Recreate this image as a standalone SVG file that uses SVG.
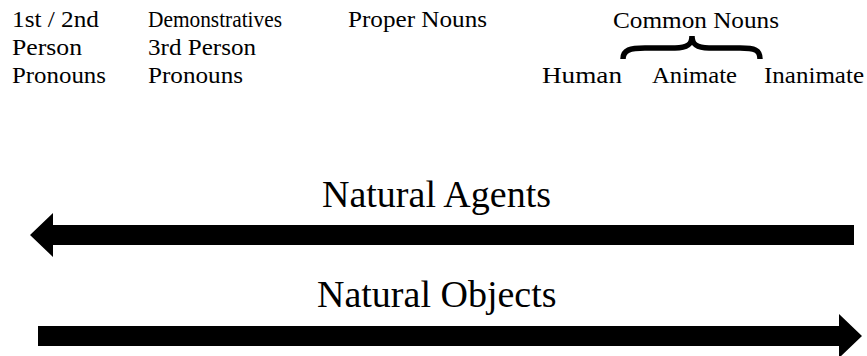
<svg xmlns="http://www.w3.org/2000/svg" width="867" height="356" viewBox="0 0 867 356">
<style>
.lbl{font-size:24px;fill:#000}
.ttl{font-size:38px;fill:#000}
.brace{fill:none;stroke:#000;stroke-width:5.5}
</style>
<rect width="867" height="356" fill="#fff"/>
<g font-family="Liberation Serif">
<g id="pron12"><text class="lbl" x="12" y="27" textLength="87" lengthAdjust="spacingAndGlyphs">1st / 2nd</text><text class="lbl" x="12" y="55" textLength="70" lengthAdjust="spacingAndGlyphs">Person</text><text class="lbl" x="12" y="83" textLength="94" lengthAdjust="spacingAndGlyphs">Pronouns</text></g>
<g id="dem3"><text class="lbl" x="148" y="27" textLength="134" lengthAdjust="spacingAndGlyphs">Demonstratives</text><text class="lbl" x="148" y="55" textLength="108" lengthAdjust="spacingAndGlyphs">3rd Person</text><text class="lbl" x="148" y="83" textLength="95" lengthAdjust="spacingAndGlyphs">Pronouns</text></g>
<g id="proper"><text class="lbl" x="348" y="27" textLength="139" lengthAdjust="spacingAndGlyphs">Proper Nouns</text></g>
<g id="common"><text class="lbl" x="613" y="28" textLength="166" lengthAdjust="spacingAndGlyphs">Common Nouns</text>
<path class="brace" d="M623,59 C623,50 630,48 645,48 L675,48 C688,48 692,44 692,36 C692,44 696,48 709,48 L740,48 C755,48 760,50 760,59"/></g>
<g id="human"><text class="lbl" x="542" y="83" textLength="80" lengthAdjust="spacingAndGlyphs">Human</text></g>
<g id="animate"><text class="lbl" x="652" y="83" textLength="85" lengthAdjust="spacingAndGlyphs">Animate</text></g>
<g id="inanimate"><text class="lbl" x="764" y="83" textLength="100" lengthAdjust="spacingAndGlyphs">Inanimate</text></g>
<g id="agents"><text class="ttl" x="322" y="207">Natural Agents</text></g>
<g id="objects"><text class="ttl" x="317" y="307">Natural Objects</text></g>
</g>
<g id="connectors">
<polygon points="854,225 53,225 53,213 30,235 53,257 53,245 854,245"/>
<polygon points="38,326 839,326 839,314 862,336 839,358 839,346 38,346"/>
</g>
</svg>
